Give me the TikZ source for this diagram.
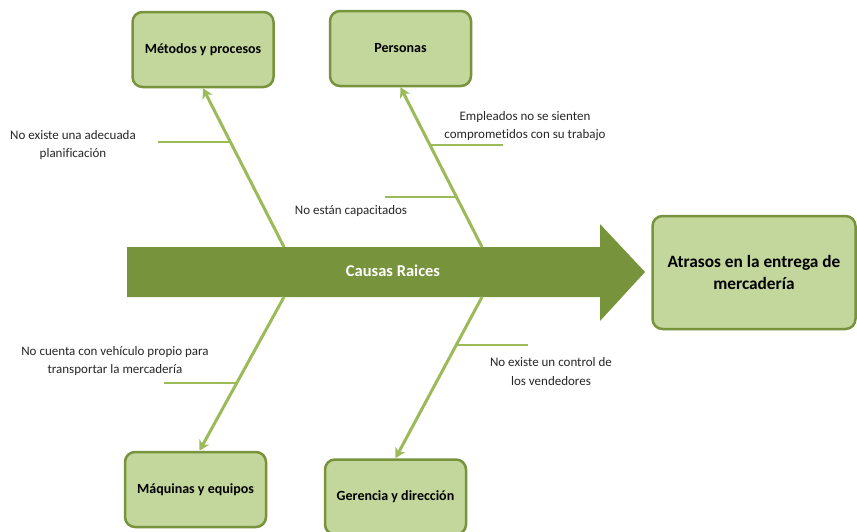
\documentclass[tikz,border=0pt]{standalone}
\usepackage{fontspec}
\setmainfont[Ligatures=CommonOff]{Carlito}
\usetikzlibrary{arrows.meta}
\definecolor{olive}{HTML}{77933C}
\definecolor{leaf}{HTML}{C3D69B}
\definecolor{bonec}{HTML}{9BBB59}

\begin{document}
\begin{tikzpicture}[x=1pt, y=-1pt, font=\fontsize{13}{18.5}\selectfont,
  cat/.style={draw=olive, line width=2.5pt, fill=leaf, rounded corners=10pt, minimum width=141pt, minimum height=75pt, font=\fontsize{14}{18}\selectfont\bfseries},
  eff/.style={cat, minimum width=203pt, minimum height=113pt, align=center, font=\fontsize{17.3}{22}\selectfont\bfseries},
  bone/.style={draw=bonec, line width=3pt, -{Stealth[length=10pt, width=11pt, inset=3pt]}},
  twig/.style={draw=bonec, line width=1.2pt},
  note/.style={align=center, text=black!85}]
\useasboundingbox (0,0) rectangle (857,531);
% categories and effect
\node[cat] (met) at (203,49.5) {Métodos y procesos};
\node[cat] (per) at (400.5,48.5) {Personas};
\node[cat] (maq) at (195.5,489.5) {Máquinas y equipos};
\node[cat] (ger) at (395.5,497) {Gerencia y dirección};
\node[eff] (efx) at (754,272.5) {Atrasos en la entrega de\\mercadería};
% spine
\fill[olive] (127,247) -- (600,247) -- (600,224) -- (645,272) -- (600,321) -- (600,297) -- (127,297) -- cycle;
\node[text=white, font=\fontsize{16.5}{21}\selectfont\bfseries] (spn) at (393,271) {Causas Raices};
\coordinate (t1) at (284,247); \coordinate (t2) at (482,247);
\coordinate (b1) at (284,297); \coordinate (b2) at (482,297);
% bones
\draw[bone] (t1) -- (met.south);
\draw[bone] (t2) -- (per.south);
\draw[bone] (b1) -- ([xshift=4pt]maq.north);
\draw[bone] (b2) -- (ger.north);
% sub causes
\draw[twig] (158,142) -- (231,142);
\node[note] (c1) at (73,145) {No existe una adecuada\\planificación};
\draw[twig] (430,145) -- (503,145);
\node[note] (c2) at (525,126) {Empleados no se sienten\\comprometidos con su trabajo};
\draw[twig] (385,197) -- (455,197);
\node[note] (c3) at (351,211) {No están capacitados};
\draw[twig] (164,383) -- (236,383);
\node[note] (c4) at (115,361) {No cuenta con vehículo propio para\\transportar la mercadería};
\draw[twig] (457,345) -- (528,345);
\node[note] (c5) at (551,371.5) {No existe un control de\\los vendedores};
\end{tikzpicture}
\end{document}
